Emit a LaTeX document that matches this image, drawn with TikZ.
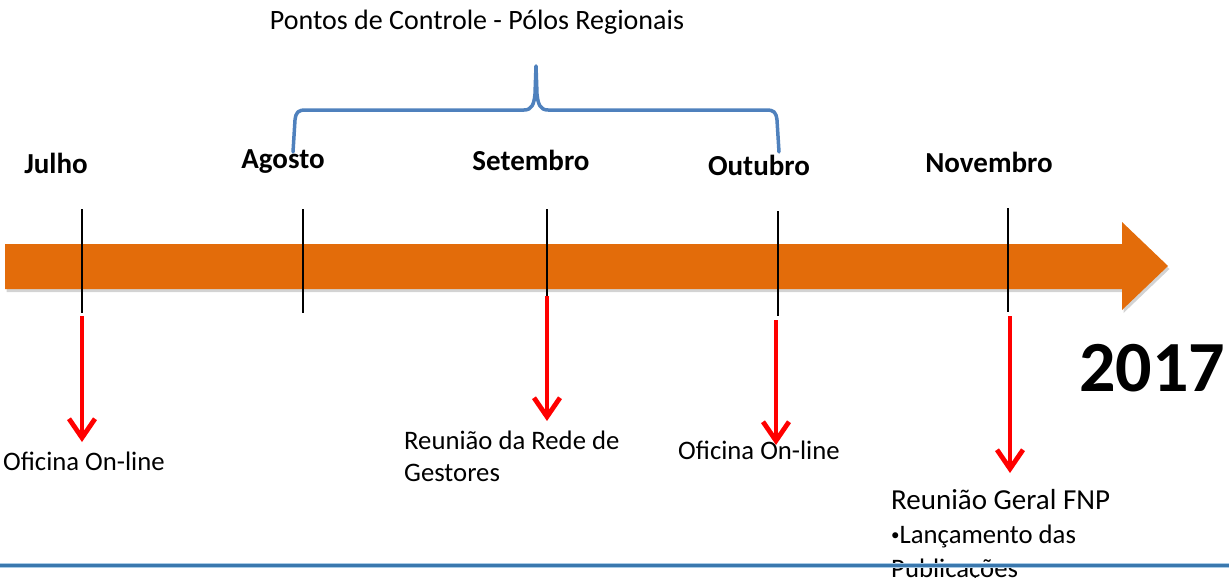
\documentclass[tikz,border=0pt]{standalone}
\usepackage{fontspec}
\setmainfont{Carlito}
\usetikzlibrary{arrows.meta,shadows}
\definecolor{tlorange}{HTML}{E36C0A}
\definecolor{bracecol}{HTML}{4F81BD}
\definecolor{rulecol}{HTML}{3A78AE}
\definecolor{rulelight}{HTML}{A9CBE6}
\tikzset{
  month/.style={font=\fontsize{29}{33}\selectfont\bfseries, inner sep=0pt},
  txt/.style={font=\fontsize{26.7}{32}\selectfont, inner sep=0pt, align=left},
  bigtxt/.style={font=\fontsize{29}{34}\selectfont, inner sep=0pt, align=left},
  tick/.style={draw=black, line width=1.8pt},
  evarrow/.style={draw=red, line width=4.8pt, -{Straight Barb[length=19pt,width=26pt,line width=4.8pt]}},
}
\newcommand{\smallbullet}{\raisebox{3pt}{\fontsize{17}{17}\selectfont •}}
\begin{document}
\begin{tikzpicture}[x=1pt,y=-1pt]
\useasboundingbox (0,0) rectangle (1229,578);
% timeline arrow
\path[fill=tlorange, drop shadow={opacity=0.35, shadow xshift=1.5pt, shadow yshift=-3pt}]
  (5,244) -- (1122,244) -- (1122,222) -- (1168,266) -- (1122,310) -- (1122,289) -- (5,289) -- cycle;
% title
\node[font=\fontsize{28}{32}\selectfont, inner sep=0pt, anchor=base] (title) at (477,30) {Pontos de Controle - Pólos Regionais};
% brace
\draw[bracecol, line width=3.5pt, line cap=round, line join=round]
  (293,152) -- (295,120) .. controls (296,112) and (298,110) .. (306,110)
  -- (524,110) .. controls (532,110) and (534,104) .. (535,94) -- (536,66)
  -- (537,94) .. controls (538,104) and (540,110) .. (548,110)
  -- (766,110) .. controls (774,110) and (776,112) .. (777,120) -- (779,152);
% months
\node[month, anchor=base] (jul) at (56,173) {Julho};
\node[month, anchor=base] (ago) at (283,168) {Agosto};
\node[month, anchor=base] (set) at (531,170) {Setembro};
\node[month, anchor=base] (out) at (759,175) {Outubro};
\node[month, anchor=base] (nov) at (989,172) {Novembro};
% tick coordinates
\coordinate (t1a) at (82,209);  \coordinate (t1b) at (82,313);
\coordinate (t2a) at (303,209); \coordinate (t2b) at (303,313);
\coordinate (t3a) at (547,209); \coordinate (t3b) at (547,296);
\coordinate (t4a) at (778,211); \coordinate (t4b) at (778,316);
\coordinate (t5a) at (1008,208); \coordinate (t5b) at (1008,312);
\draw[tick] (t1a) -- (t1b);
\draw[tick] (t2a) -- (t2b);
\draw[tick] (t3a) -- (t3b);
\draw[tick] (t4a) -- (t4b);
\draw[tick] (t5a) -- (t5b);
% year
\node[font=\fontsize{72}{80}\selectfont\bfseries, inner sep=0pt, anchor=base] (year) at (1152,391) {2017};
% event labels
\node[txt, anchor=base west] (e1) at (3,470) {Oficina On-line};
\node[txt, anchor=north west] (e2) at (404,431) {Reunião da Rede de\\Gestores};
\node[txt, anchor=base west] (e4) at (678,459) {Oficina On-line};
\node[bigtxt, anchor=north west] (e5) at (891,489) {Reunião Geral FNP\\{\fontsize{26.7}{34}\selectfont\smallbullet Lançamento das}\\{\fontsize{26.7}{34}\selectfont Publicações}};
% red event arrows
\coordinate (r1a) at (82,316);   \coordinate (r1b) at (82,442);
\coordinate (r3a) at (547,296);  \coordinate (r3b) at (547,421);
\coordinate (r4a) at (776,320);  \coordinate (r4b) at (776,445);
\coordinate (r5a) at (1010,316); \coordinate (r5b) at (1010,473);
\draw[evarrow] (r1a) -- (r1b);
\draw[evarrow] (r3a) -- (r3b);
\draw[evarrow] (r4a) -- (r4b);
\draw[evarrow] (r5a) -- (r5b);
% bottom rule
\coordinate (bl) at (0,565.5); \coordinate (br) at (1229,565.5);
\draw[rulelight, line width=5pt] (bl) -- (br);
\draw[rulecol, line width=2.6pt] (bl) -- (br);
\end{tikzpicture}
\end{document}
